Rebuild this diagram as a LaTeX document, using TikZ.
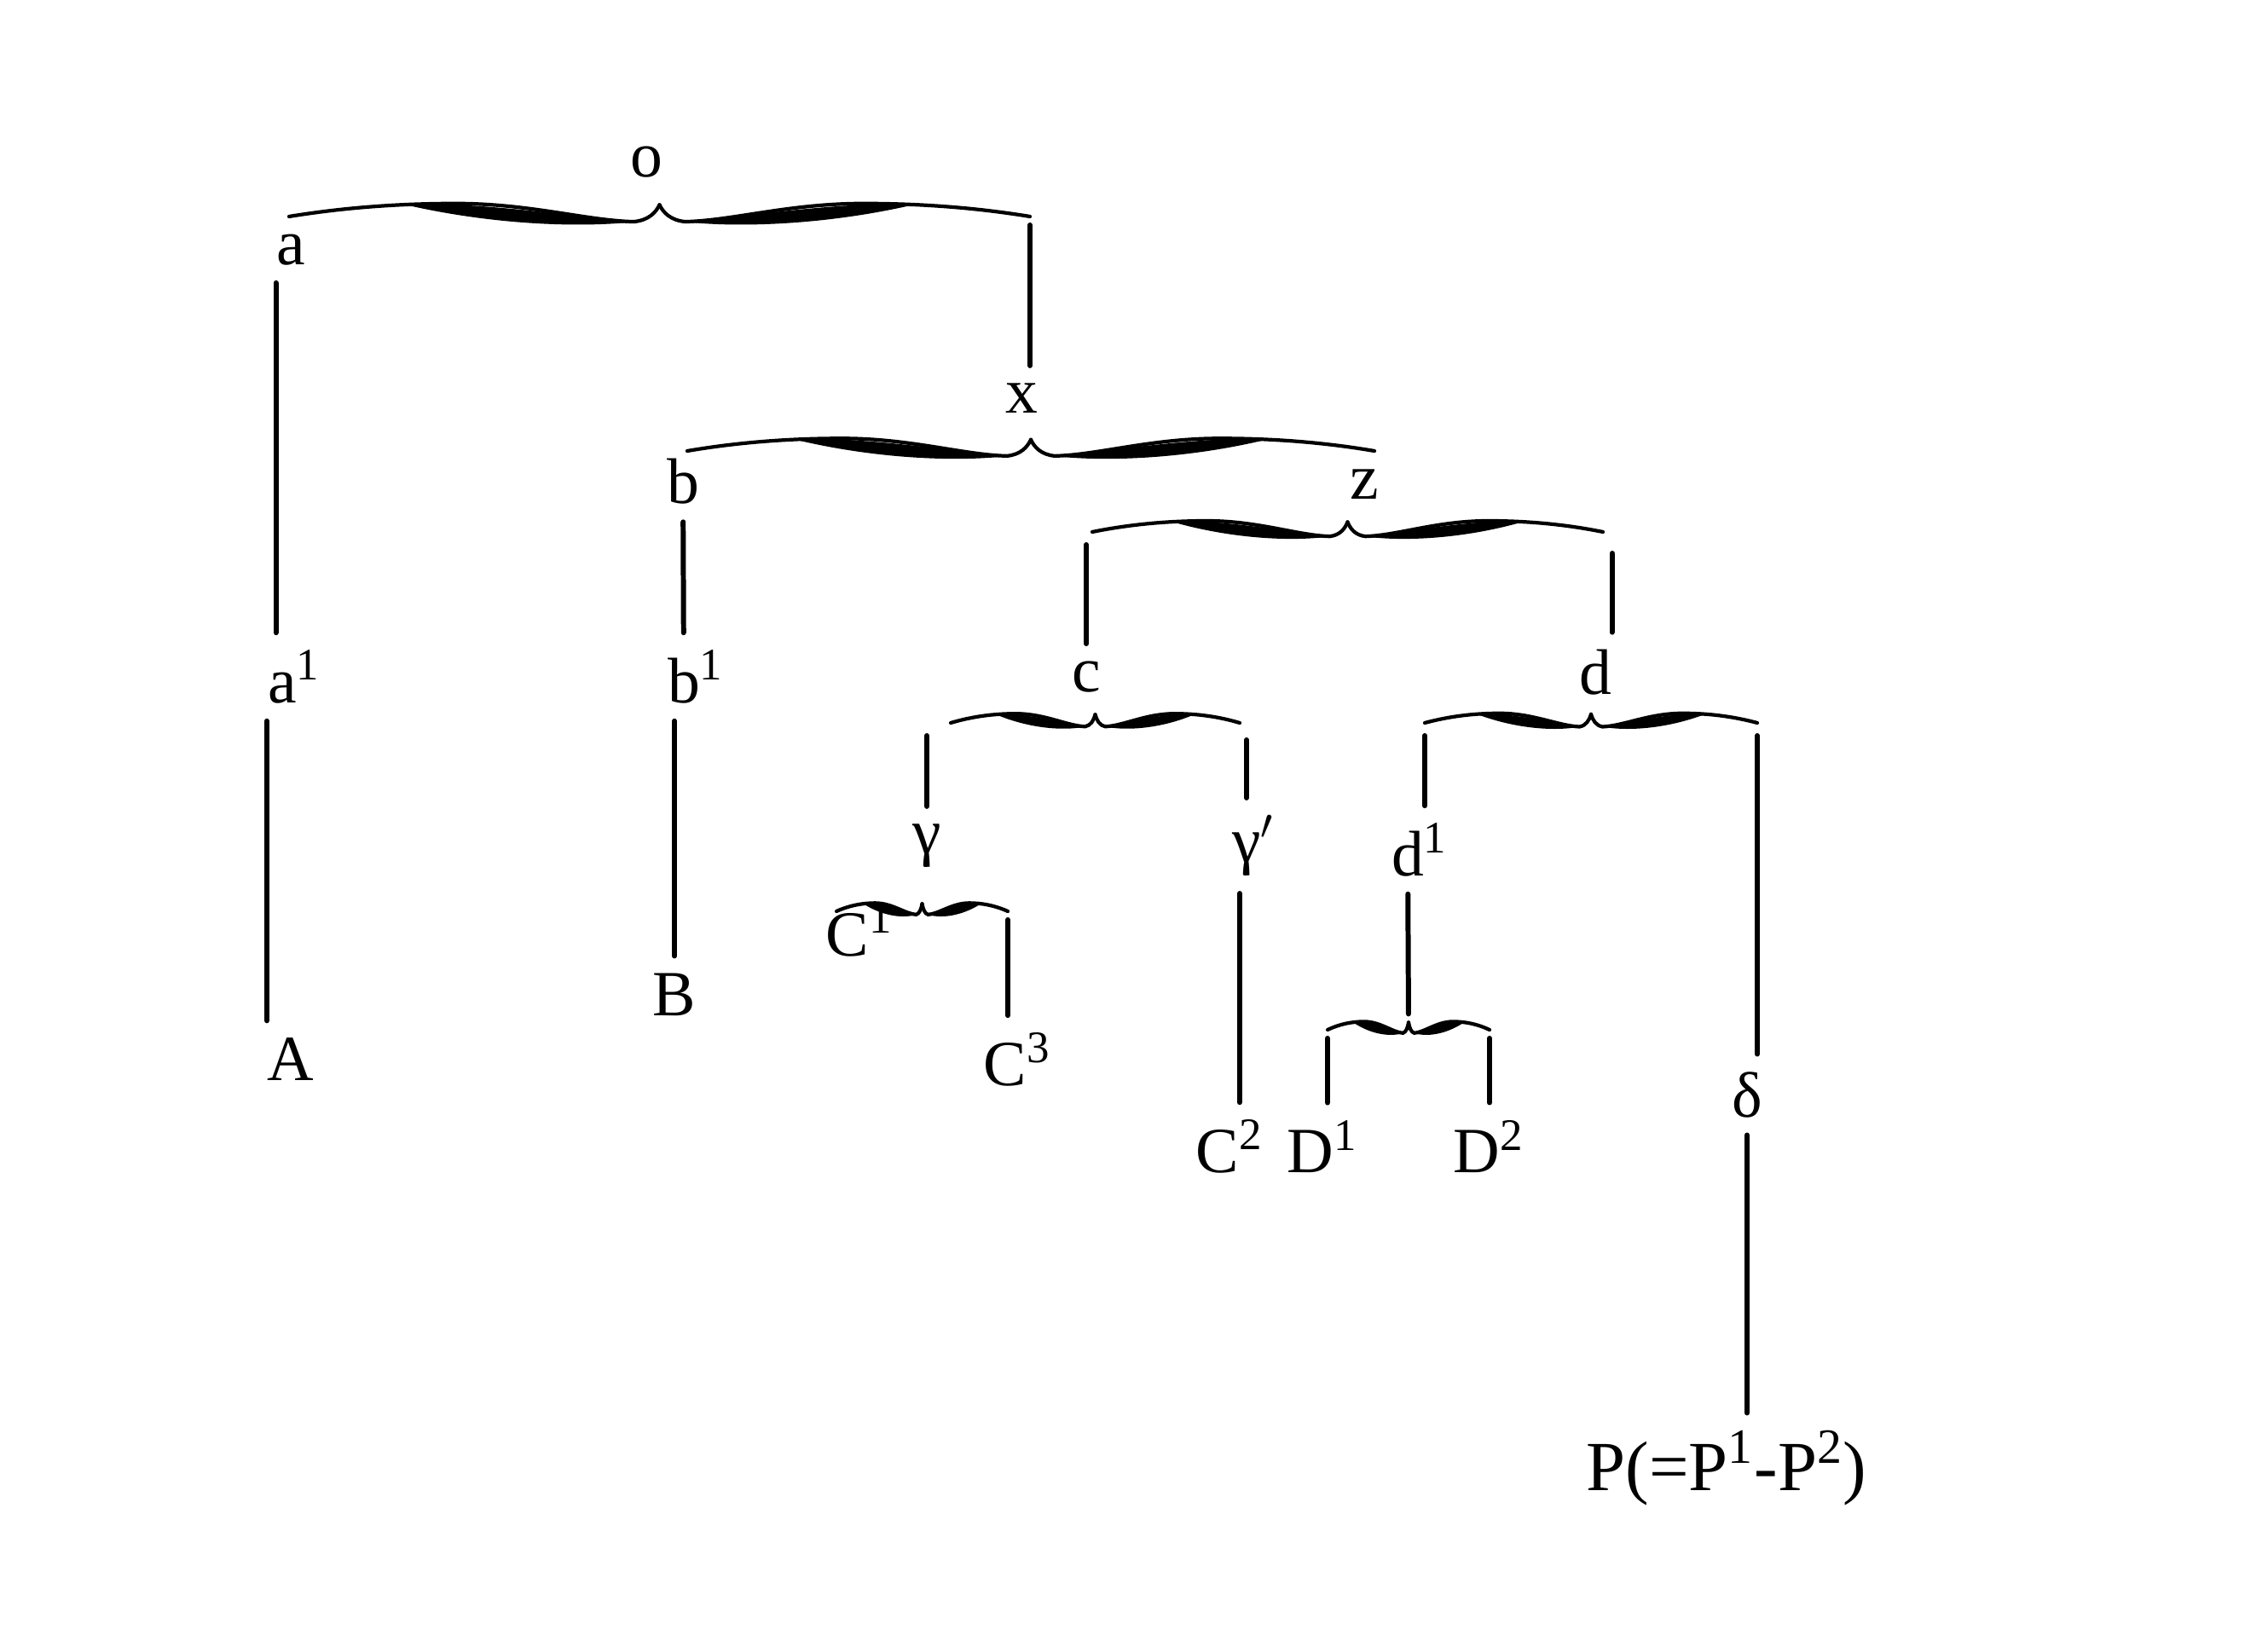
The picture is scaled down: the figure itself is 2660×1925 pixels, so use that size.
\documentclass[tikz,border=0pt]{standalone}
\usepackage{fontspec}
\setmainfont{Liberation Serif}
\usetikzlibrary{calc}
\tikzset{
  lbl/.style={inner xsep=0pt,inner ysep=2mm,font=\fontsize{21.5}{24}\selectfont},
  stem/.style={line width=1.7pt,line cap=round},
}
\newcommand{\rsup}[1]{\rlap{\textsuperscript{#1}}}
% one arm of a brace, end at (0,0), cusp at (1,-9)
\newcommand{\halfbrace}{%
  \draw[line width=1.2pt,line cap=round] (0,0) .. controls (0.15,-7) and (0.3,-10) .. (0.45,-10)
    .. controls (0.65,-10) and (0.8,3) .. (0.93,4)
    .. controls (0.97,3) and (0.99,-3) .. (1,-9);
  \fill (0.3,-10) .. controls (0.55,-11) and (0.8,2) .. (0.95,3.5)
    .. controls (0.8,9) and (0.55,7) .. (0.3,-10) -- cycle;
}
\newcommand{\ovbrace}[4]{%
  \coordinate (#1-l) at (#2,#4);
  \coordinate (#1-r) at (#3,#4);
  \coordinate (#1-m) at ({(#2+#3)/2},{#4-9*(0.8+(#3-#2)/1200)});
  \begin{scope}[shift={(#2,#4)},xscale={(#3-#2)/2},yscale={0.8+(#3-#2)/1200}]\halfbrace\end{scope}
  \begin{scope}[shift={(#3,#4)},xscale={-(#3-#2)/2},yscale={0.8+(#3-#2)/1200}]\halfbrace\end{scope}
}

\begin{document}
\begin{tikzpicture}[x=0.01cm,y=-0.01cm]
  \useasboundingbox (0,0) rectangle (2660,1925);
  % braces
  \ovbrace{o}{339}{1208}{254}
  \ovbrace{x}{806}{1612}{529}
  \ovbrace{z}{1281}{1880}{624}
  \ovbrace{c}{1115}{1454}{848}
  \ovbrace{d}{1671}{2061}{848}
  \ovbrace{g}{981}{1182}{1069}
  \ovbrace{dd}{1557}{1747}{1208}
  % labels
  \node[lbl] (o) at (758,190) {o};
  \node[lbl] (a) at (341,293) {a};
  \node[lbl] (a1) at (331,794) {a\rsup{1}};
  \node[lbl] (A) at (341,1243) {A};
  \node[lbl] (x) at (1198,467) {x};
  \node[lbl] (b) at (801,565) {b};
  \node[lbl] (b1) at (802,794) {b\rsup{1}};
  \node[lbl] (B) at (791,1167) {B};
  \node[lbl] (z) at (1600,568) {z};
  \node[lbl] (c) at (1274,794) {c};
  \node[lbl] (d) at (1871,789) {d};
  \node[lbl] (g) at (1087,992) {γ};
  \node[lbl] (g2) at (1462,992) {γ\rlap{$'$}};
  \node[lbl] (C1) at (994,1091) {C\rsup{1}};
  \node[lbl] (C3) at (1179,1243) {C\rsup{3}};
  \node[lbl] (C2) at (1428,1345) {C\rsup{2}};
  \node[lbl] (d1) at (1651,997) {d\rsup{1}};
  \node[lbl] (D1) at (1537,1345) {D\rsup{1}};
  \node[lbl] (D2) at (1732,1345) {D\rsup{2}};
  \node[lbl] (del) at (2049,1284) {δ};
  \node[lbl,font=\fontsize{23.5}{26}\selectfont] (P) at (2025,1722) {P(=P\textsuperscript{1}-P\textsuperscript{2})};
  % stems
  \draw[stem] (a.south west) -- (a.south west |- a1.north);
  \draw[stem] (A.north west |- a1.south) -- (A.north west);
  \draw[stem,shorten <=1mm] (o-r) -- (o-r |- x.north);
  \draw[stem] (b) -- (b1);
  \draw[stem] (B.north |- b1.south) -- (B.north);
  \draw[stem,shorten <=1.5mm] (c.north |- z-l) -- (c.north);
  \draw[stem,shorten <=2.5mm] (d.north east |- z-r) -- (d.north east);
  \draw[stem,shorten <=1.5mm] (g.north |- c-l) -- (g.north);
  \draw[stem,shorten <=2mm] (g2.north |- c-r) -- (g2.north);
  \draw[stem,shorten <=1mm] (g-r) -- (g-r |- C3.north);
  \draw[stem] (C2.north east |- g2.south) -- (C2.north east);
  \draw[stem,shorten <=1.5mm] (d-l) -- (d-l |- d1.north);
  \draw[stem,shorten <=1.5mm] (d-r) -- (d-r |- del.north);
  \draw[stem] (del.south) -- (del.south |- P.north);
  \draw[stem,shorten >=1mm] (d1) -- (dd-m);
  \draw[stem,shorten <=1mm] (dd-l) -- (dd-l |- D1.north);
  \draw[stem,shorten <=1mm] (dd-r) -- (dd-r |- D2.north);
\end{tikzpicture}
\end{document}
